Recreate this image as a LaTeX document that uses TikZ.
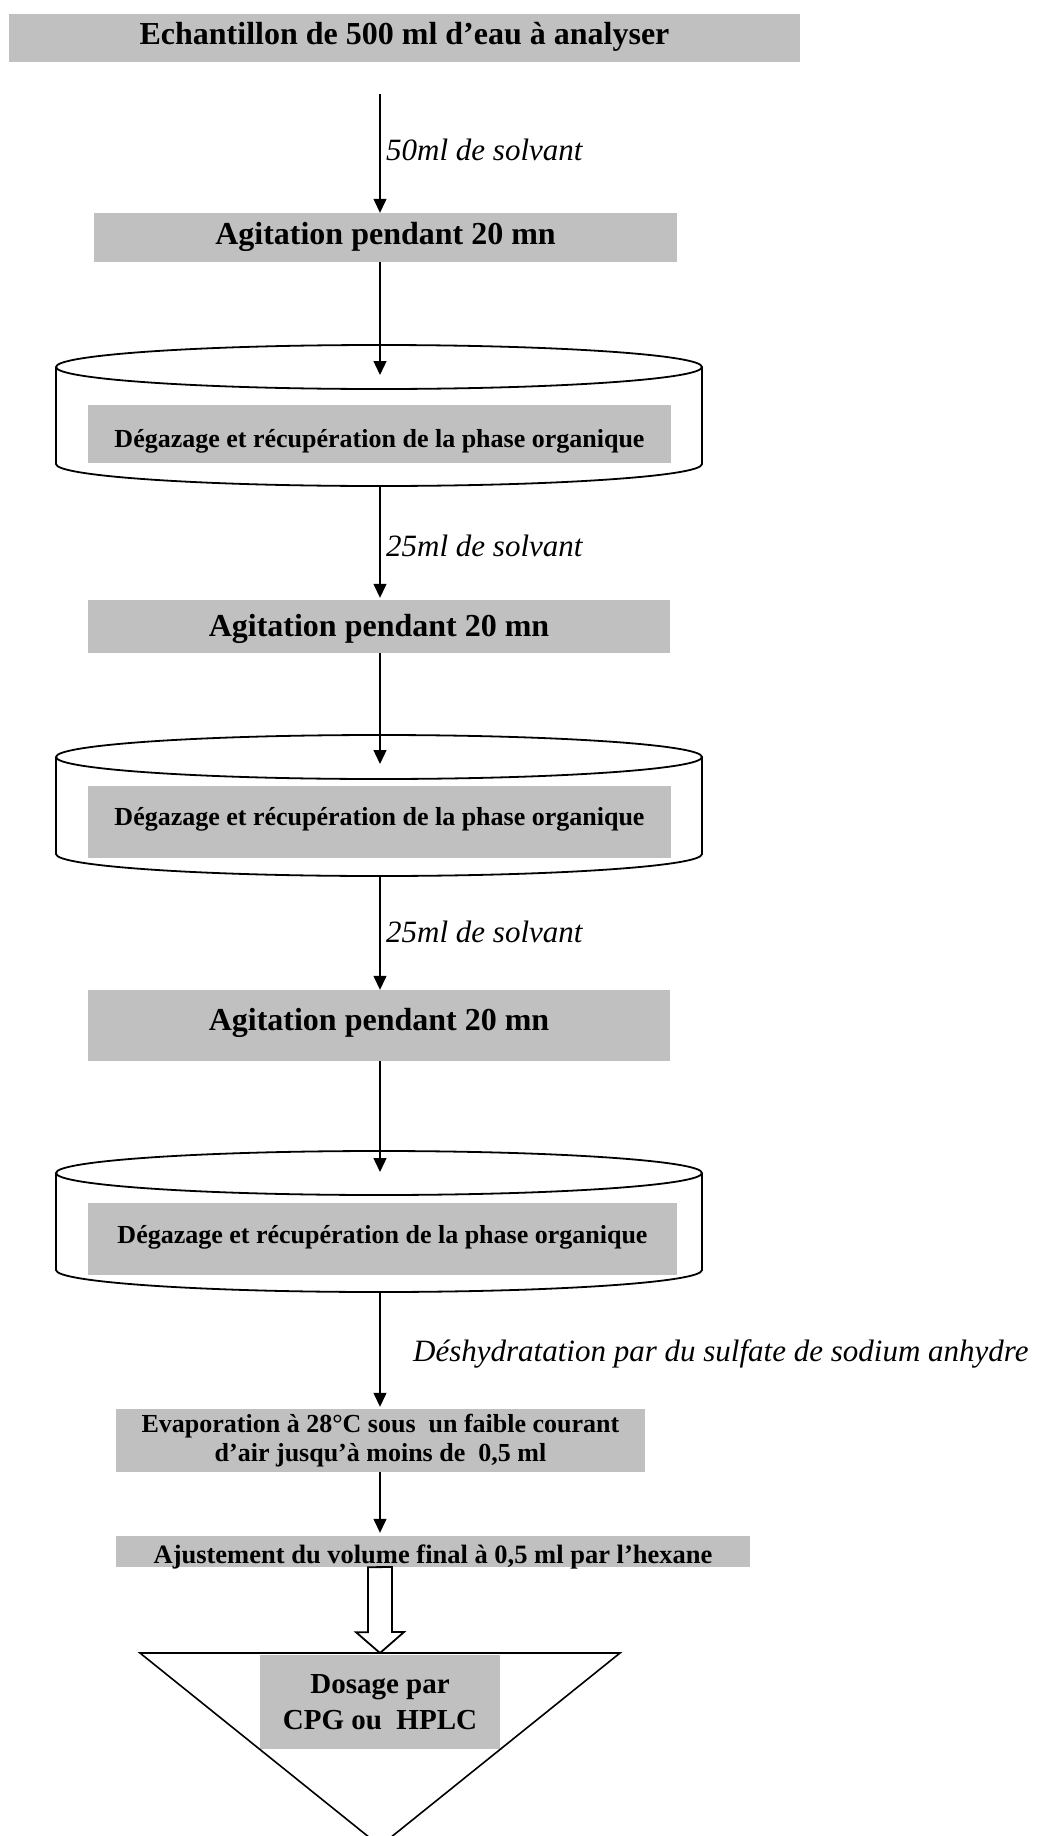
\documentclass[tikz,border=0pt]{standalone}
\usepackage{fontspec}
\setmainfont{Liberation Serif}
\usepackage{tikz}
\usetikzlibrary{arrows.meta,calc}
\definecolor{boxgrey}{HTML}{C0C0C0}

\begin{document}
\begin{tikzpicture}[x=1pt,y=-1pt,
  greybox/.style={fill=boxgrey,inner sep=0pt,font=\bfseries\fontsize{32}{36}\selectfont},
  smallbox/.style={greybox,font=\bfseries\fontsize{26}{29}\selectfont},
  flow/.style={-{Triangle[length=14pt,width=13pt]},line width=1.3pt},
  lbl/.style={font=\itshape\fontsize{31}{36}\selectfont,anchor=base west,inner sep=0pt},
  canline/.style={line width=1.8pt}]
  \useasboundingbox (0,0) rectangle (1054,1836);
  \clip (0,0) rectangle (1054,1836);
  % Arrow axis
  \coordinate (ax) at (380,0);
  % Cans (top ellipse, sides, bottom arc)
  \foreach \ct in {367,757,1173} {
    \draw[canline] (379,\ct) ellipse [x radius=323, y radius=22];
    \draw[canline] (56,\ct) -- (56,{\ct+97}) arc[start angle=180, end angle=0, x radius=323, y radius=22] -- (702,\ct);
  }
  \coordinate (c1in) at (380,375);  \coordinate (c1out) at (380,486);
  \coordinate (c2in) at (380,764);  \coordinate (c2out) at (380,877);
  \coordinate (c3in) at (380,1172); \coordinate (c3out) at (380,1292);
  % Boxes
  \node[greybox,minimum width=791pt,text height=31pt,text depth=17pt] (title) at (404.5,38) {Echantillon de 500 ml d’eau à analyser};
  \node[greybox,minimum width=583pt,text height=31pt,text depth=18pt] (agit1) at (385.5,237.5) {Agitation pendant 20 mn};
  \node[smallbox,minimum width=583pt,text height=42pt,text depth=16pt] (degaz1) at (379.5,434) {Dégazage et récupération de la phase organique};
  \node[greybox,minimum width=582pt,text height=36pt,text depth=17pt] (agit2) at (379,626.5) {Agitation pendant 20 mn};
  \node[smallbox,minimum width=583pt,text height=39pt,text depth=33pt] (degaz2) at (379.5,822) {Dégazage et récupération de la phase organique};
  \node[greybox,minimum width=582pt,text height=40pt,text depth=31pt] (agit3) at (379,1025.5) {Agitation pendant 20 mn};
  \node[smallbox,minimum width=589pt,text height=40pt,text depth=32pt] (degaz3) at (382.5,1239) {Dégazage et récupération de la phase organique};
  \node[smallbox,align=center,minimum width=529pt,minimum height=63pt] (evap) at (380.5,1440.5) {Evaporation à 28°C sous\ \ un faible courant\\ d’air jusqu’à moins de\ \ 0,5 ml};
  \node[smallbox,font=\bfseries\fontsize{26.5}{29}\selectfont,minimum width=634pt,text height=27pt,text depth=4pt] (ajust) at (433,1551.5) {Ajustement du volume final à 0,5 ml par l’hexane};
  \node[greybox,align=center,font=\bfseries\fontsize{29}{36}\selectfont,minimum width=240pt,minimum height=94pt] (dosage) at (380,1702) {Dosage par\\ CPG ou\ \ HPLC};
  % Final cone
  \coordinate (triL) at (140,1653);
  \coordinate (triR) at (620,1653);
  \coordinate (triA) at (380,1846);
  \coordinate (triTop) at (380,1653);
  \draw[line width=1.6pt,line join=miter] (triL) -- (triR) -- (triA) -- cycle;
  % Flow arrows
  \draw[flow,shorten <=32pt] (title.south -| ax) -- (agit1.north -| ax);
  \draw[flow] (agit1.south -| ax) -- (c1in);
  \draw[flow,shorten >=2pt] (c1out) -- (agit2.north -| ax);
  \draw[flow] (agit2.south -| ax) -- (c2in);
  \draw[flow] (c2out) -- (agit3.north -| ax);
  \draw[flow] (agit3.south -| ax) -- (c3in);
  \draw[flow,shorten >=2pt] (c3out) -- (evap.north -| ax);
  \draw[flow,shorten >=3pt] (evap.south -| ax) -- (ajust.north -| ax);
  % Hollow arrow into the cone
  \draw[line width=1.8pt,fill=white] ($(ajust.south -| ax)+(-12,0)$) -- ++(0,65) -- ++(-12,0) -- (triTop) -- ++(24,-21) -- ++(-12,0) -- ++(0,-65) -- cycle;
  % Labels
  \node[lbl] (lblA) at (386,160) {50ml de solvant};
  \node[lbl] (lblB) at (386,556) {25ml de solvant};
  \node[lbl] (lblC) at (386,942) {25ml de solvant};
  \node[lbl] (lblD) at (413,1361) {Déshydratation par du sulfate de sodium anhydre};
\end{tikzpicture}
\end{document}
